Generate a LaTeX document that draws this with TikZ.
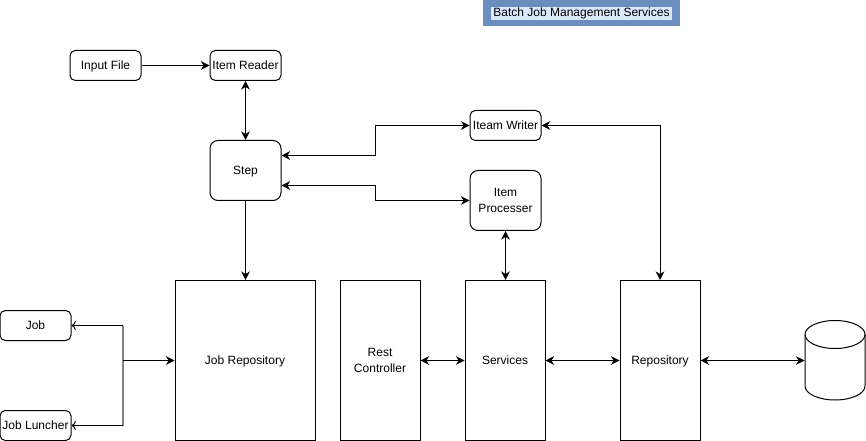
\documentclass[tikz,border=0pt]{standalone}
\usepackage{fontspec}
\setmainfont{Liberation Sans}
\usetikzlibrary{arrows.meta, positioning, calc}
\definecolor{titleblue}{HTML}{6C8EBF}
\definecolor{titlefill}{HTML}{DAE8FC}
\tikzset{
    oneline/.style={text height=7.5pt,text depth=1pt},
    smallbox/.style={draw,rounded corners=4pt,inner sep=0pt,minimum width=53.25pt,minimum height=22.5pt,align=center},
    tallbox/.style={draw,rounded corners=6pt,inner sep=0pt,minimum width=53.25pt,minimum height=45pt,align=center},
    bigbox/.style={draw,inner sep=0pt,minimum width=60pt,minimum height=120pt,align=center},
    link/.style={line width=0.75pt,{Stealth[length=6.5pt,width=6.5pt]}-{Stealth[length=6.5pt,width=6.5pt]}},
    onelink/.style={line width=0.75pt,-{Stealth[length=6.5pt,width=6.5pt]}}
}
\begin{document}
\begin{tikzpicture}[x=0.75pt,y=-0.75pt,line width=0.75pt,font=\fontsize{9pt}{12pt}\selectfont]
\useasboundingbox (0,0) rectangle (866,441);
% === TITLE ===
\node[fill=titleblue,minimum width=147.75pt,minimum height=19.5pt,inner sep=0pt] (titlebar) at (581.5,13) {};
\node[fill=titlefill,inner xsep=2pt,inner ysep=0.5pt,text height=7pt,text depth=2pt] (title) at (581.5,13.5) {Batch Job Management Services};
% === TOP BOXES ===
\node[smallbox,oneline] (inputfile) at (105.5,65.5) {Input File};
\node[smallbox,oneline] (itemreader) at (245.5,65.5) {Item Reader};
\node[tallbox,oneline] (step) at (245.5,170.5) {Step};
\node[smallbox,oneline] (iteamwriter) at (505.5,125.5) {Iteam Writer};
\node[tallbox] (itemprocesser) at (505.5,200.5) {Item\\Processer};
% === BOTTOM BOXES ===
\node[bigbox,oneline,minimum width=105pt] (jobrepository) at (245,360.5) {Job Repository};
\node[bigbox] (restcontroller) at (380,360.5) {Rest\\Controller};
\node[bigbox,oneline] (services) at (505,360.5) {Services};
\node[bigbox,oneline] (repository) at (660,360.5) {Repository};
\node[smallbox,oneline] (job) at (35.5,325.5) {Job};
\node[smallbox,oneline] (jobluncher) at (35.5,425.5) {Job Luncher};
% === DATABASE ===
\node[minimum width=45pt,minimum height=60pt,inner sep=0pt] (database) at (835,360.5) {};
\draw (805,334.5) -- (805,386) arc[start angle=180,end angle=0,x radius=30,y radius=14] -- (865,334.5);
\draw (835,334.5) ellipse (30 and 14);
% === CONNECTORS ===
\coordinate (jobturn) at (123,325.5);
\coordinate (luncherturn) at (123,425.5);
\coordinate (jobjoin) at (123,360.5);
\coordinate (writerturn) at (660,125.5);
\draw[onelink] (inputfile) -- (itemreader);
\draw[link] (itemreader) -- (step);
\draw[onelink] (step) -- (step |- jobrepository.north);
\draw[link] ($(step.east)+(0,-15)$) -- (375,155.5) -- (375,125.5) -- (iteamwriter.west);
\draw[link] ($(step.east)+(0,15)$) -- (375,185.5) -- (375,200.5) -- (itemprocesser.west);
\draw[link] (iteamwriter.east) -- (writerturn) -- (repository.north);
\draw[link] (itemprocesser) -- (itemprocesser |- services.north);
\draw[gray,line width=1.2pt] (jobturn) -- (luncherturn);
\draw[onelink,<-] (job.east) -- (jobturn);
\draw[onelink,<-] (jobluncher.east) -- (luncherturn);
\draw[onelink] (jobjoin) -- (jobrepository.west);
\draw[link] (restcontroller) -- (services);
\draw[link] (services) -- (repository);
\draw[link] (repository) -- (database);
\end{tikzpicture}
\end{document}
